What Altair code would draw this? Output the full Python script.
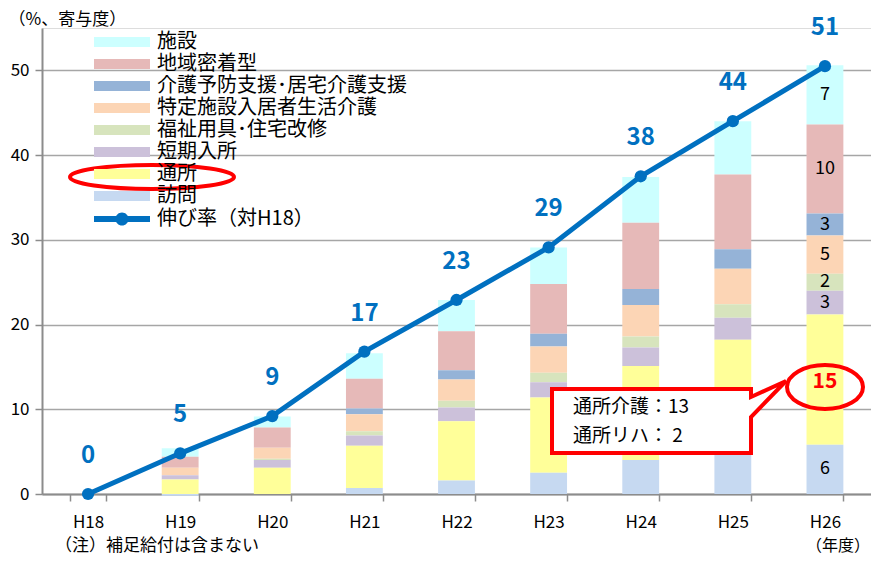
import altair as alt
import pandas as pd

FONT = "Noto Sans CJK JP"

years = ["H18", "H19", "H20", "H21", "H22", "H23", "H24", "H25", "H26"]
categories = ["施設", "地域密着型", "介護予防支援･居宅介護支援", "特定施設入居者生活介護",
              "福祉用具･住宅改修", "短期入所", "通所", "訪問"]
colors = ["#CCFFFF", "#E6B9B8", "#95B3D7", "#FCD5B5", "#D7E4BD", "#CCC1DA", "#FFFF99", "#C6D9F1"]

v_shisetsu = [0, 1.0, 1.3, 3.0, 3.7, 4.3, 5.4, 6.3, 7.0]
v_chiiki = [0, 1.3, 2.4, 3.5, 4.6, 5.9, 7.8, 8.8, 10.5]
v_yobou = [0, 0, 0, 0.7, 1.1, 1.5, 1.9, 2.3, 2.6]
v_tokutei = [0, 0.9, 1.3, 2.0, 2.5, 3.1, 3.7, 4.2, 4.5]
v_fukushi = [0, 0, 0.15, 0.5, 0.8, 1.1, 1.3, 1.6, 2.0]
v_tanki = [0, 0.5, 0.9, 1.2, 1.6, 1.8, 2.2, 2.6, 2.8]
v_tsusho = [0, 1.7, 3.1, 5.0, 7.0, 8.9, 11.1, 13.2, 15.4]
v_houmon = [0, -0.2, 0, 0.7, 1.6, 2.5, 4.0, 5.0, 5.8]
series_values = [v_shisetsu, v_chiiki, v_yobou, v_tokutei, v_fukushi, v_tanki, v_tsusho, v_houmon]

h26_labels = ["7", "10", "3", "5", "2", "3", "15", "6"]

growth_name = "伸び率（対H18）"
growth = [0, 4.8, 9.2, 16.8, 22.9, 29.1, 37.5, 44.0, 50.5]
growth_labels = ["0", "5", "9", "17", "23", "29", "38", "44", "51"]

y_ticks = [0, 10, 20, 30, 40, 50]
callout_line1 = "通所介護：13"
callout_line2 = "通所リハ： 2"
note_text = "（注）補足給付は含まない"
unit_text = "（年度）"
y_title = "（%、寄与度）"

rows = []
n_cat = len(categories)
for ci, (cat, vals) in enumerate(zip(categories, series_values)):
    for yi, yr in enumerate(years):
        rows.append({"year": yr, "cat": cat, "value": vals[yi], "idx": n_cat - 1 - ci,
                     "label": h26_labels[ci] if yr == "H26" else ""})
df = pd.DataFrame(rows)
gdf = pd.DataFrame({"year": years, "growth": growth, "glabel": growth_labels,
                    "series": [growth_name] * len(years)})

x_enc = alt.X("year:N", sort=years,
              scale=alt.Scale(paddingInner=0.6, paddingOuter=0.3),
              axis=alt.Axis(title=None, labelAngle=0, tickBand="extent", grid=False,
                            labelFontSize=17, labelFont=FONT, labelColor="#000000",
                            tickSize=7, tickColor="#8C8C8C", tickWidth=1.5,
                            domainColor="#8C8C8C", domainWidth=2, labelPadding=13))
y_scale = alt.Scale(domain=[0, 55], nice=False)

bars = alt.Chart(df).mark_bar().encode(
    x=x_enc,
    y=alt.Y("value:Q", stack="zero", scale=y_scale,
            axis=alt.Axis(values=y_ticks, title=y_title, titleAngle=0, titleAlign="left",
                          titleBaseline="middle", titleX=-34, titleY=-9, titleFontSize=17,
                          titleFontWeight="normal", titleFont=FONT, titleColor="#000000",
                          labelFontSize=17, labelFont=FONT, labelColor="#000000",
                          tickSize=7, tickColor="#8C8C8C", tickWidth=1.5,
                          domainColor="#8C8C8C", domainWidth=2, labelPadding=6,
                          grid=True, gridColor="#A6A6A6", gridWidth=1.5)),
    fill=alt.Fill("cat:N", scale=alt.Scale(domain=categories, range=colors),
                  legend=alt.Legend(orient="none", legendX=70, legendY=4, title=None,
                                    symbolType="M-4,-0.71H4V0.71H-4Z", symbolSize=196,
                                    symbolStrokeWidth=0, labelOffset=25, labelFontSize=20,
                                    labelFont=FONT, labelColor="#000000", rowPadding=2,
                                    labelLimit=400, padding=0)),
    order=alt.Order("idx:Q", sort="ascending"),
)

line = alt.Chart(gdf).mark_line(strokeWidth=5).encode(
    x=alt.X("year:N", sort=years),
    y=alt.Y("growth:Q", scale=y_scale),
    stroke=alt.Stroke("series:N", scale=alt.Scale(domain=[growth_name], range=["#0070C0"]),
                      legend=alt.Legend(orient="none", legendX=70, legendY=181, title=None,
                                        symbolType="M-4,-0.43H4V0.43H-4Z M0.93,0A0.93,0.93 0 1,1 -0.93,0A0.93,0.93 0 1,1 0.93,0Z",
                                        symbolSize=196, symbolStrokeWidth=0,
                                        symbolFillColor="#0070C0", labelOffset=25,
                                        labelFontSize=20, labelFont=FONT, labelLimit=400,
                                        labelColor="#000000", padding=0)),
)
pts = alt.Chart(gdf).mark_circle(size=150, opacity=1, color="#0070C0").encode(
    x=alt.X("year:N", sort=years), y=alt.Y("growth:Q", scale=y_scale))
glab = alt.Chart(gdf).mark_text(dy=-38, fontSize=24, fontWeight="bold", font=FONT,
                                color="#0070C0").encode(
    x=alt.X("year:N", sort=years), y=alt.Y("growth:Q", scale=y_scale), text="glabel:N")

stacked = alt.Chart(df).transform_stack(
    stack="value", groupby=["year"], sort=[alt.SortField("idx", order="ascending")],
    as_=["v0", "v1"]
).transform_calculate(mid="(datum.v0 + datum.v1) / 2").transform_filter(
    "datum.year == 'H26'")
seg_black = stacked.transform_filter("datum.cat != '通所'").mark_text(
    fontSize=18, font=FONT, color="#000000").encode(
    x=alt.X("year:N", sort=years), y=alt.Y("mid:Q", scale=y_scale), text="label:N")
seg_red = stacked.transform_filter("datum.cat == '通所'").mark_text(
    fontSize=21, fontWeight="bold", font=FONT, color="#FF0000", dy=2).encode(
    x=alt.X("year:N", sort=years), y=alt.Y("mid:Q", scale=y_scale), text="label:N")

one = pd.DataFrame({"a": [0]})
callout = alt.Chart(one).mark_point(
    shape="M2,2H201V10L236,-6L201,30V66H2Z", size=4, filled=True, fill="#FFFFFF",
    stroke="#FF0000", strokeWidth=4, opacity=1).encode(x=alt.value(508), y=alt.value(359))
ell_legend = alt.Chart(one).mark_point(
    shape="M-82,0A82,12 0 1,0 82,0A82,12 0 1,0 -82,0Z", size=4, filled=False,
    stroke="#FF0000", strokeWidth=4, opacity=1).encode(x=alt.value(110), y=alt.value(149))
ell_15 = alt.Chart(one).mark_point(
    shape="M-38,0A38,22 0 1,0 38,0A38,22 0 1,0 -38,0Z", size=4, filled=False,
    stroke="#FF0000", strokeWidth=4, opacity=1).encode(x=alt.value(783), y=alt.value(359))

callout_text1 = alt.Chart(pd.DataFrame({"t": [callout_line1]})).mark_text(
    align="left", baseline="middle", fontSize=19, font=FONT, color="#000000").encode(
    x=alt.value(531), y=alt.value(379), text="t:N")
callout_text2 = alt.Chart(pd.DataFrame({"t": [callout_line2]})).mark_text(
    align="left", baseline="middle", fontSize=19, font=FONT, color="#000000").encode(
    x=alt.value(531), y=alt.value(408), text="t:N")

note = alt.Chart(pd.DataFrame({"t": [note_text]})).mark_text(
    align="left", baseline="middle", fontSize=17, font=FONT, color="#000000").encode(
    x=alt.value(13), y=alt.value(518), text="t:N")
unit = alt.Chart(pd.DataFrame({"t": [unit_text]})).mark_text(
    align="left", baseline="middle", fontSize=16, font=FONT, color="#000000").encode(
    x=alt.value(764), y=alt.value(518), text="t:N")

chart = alt.layer(
    bars, line, pts, glab, seg_black, callout, callout_text1, callout_text2, ell_15,
    seg_red, ell_legend, note, unit
).properties(
    width=829, height=466,
    autosize=alt.AutoSizeParams(type="none"),
    padding={"left": 34, "top": 20, "right": 0, "bottom": 61},
).configure_view(stroke=None).configure(font=FONT)

chart.save("out.html", embed_options={"renderer": "svg", "actions": False})
